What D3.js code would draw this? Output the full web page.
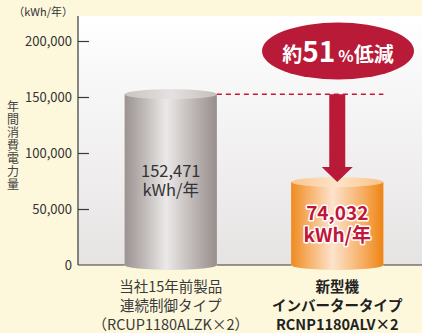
<!DOCTYPE html>
<html>
<head>
<meta charset="utf-8">
<script src="https://cdn.jsdelivr.net/npm/d3@7"></script>
<style>
  html, body { margin: 0; padding: 0; background: #fdf8dc; }
  svg { display: block; font-family: "Noto Sans CJK JP", "Noto Sans", sans-serif; }
</style>
</head>
<body>
<svg id="chart" width="422" height="333"></svg>
<script>
// Annual power consumption (kWh/year), old model vs. new inverter model
const categories = ["old", "new"];
const values = [152471, 74032];
const valueLines = [["152,471", "kWh/年"], ["74,032", "kWh/年"]];
const categoryLines = [
  ["当社15年前製品", "連続制御タイプ", "（RCUP1180ALZK×2）"],
  ["新型機", "インバータータイプ", "RCNP1180ALV×2"]
];
const tickValues = [0, 50000, 100000, 150000, 200000];
const unitLabel = "（kWh/年）";
const axisTitle = "年間消費電力量";
const reductionPrefix = "約";
const reductionNumber = "51";
const reductionPercent = "%";
const reductionSuffix = "低減";

const svg = d3.select("#chart");
const W = 422, H = 333;
const plotLeft = 78, plotTop = 16, plotBottom = 265;

const y = d3.scaleLinear().domain([0, 200000]).range([plotBottom, 41]);
const x = d3.scaleBand().domain(categories).range([78, 430])
  .paddingInner(0.446).paddingOuter(0.28);

const defs = svg.append("defs");

// plot panel background
const bg = defs.append("linearGradient").attr("id", "panel").attr("x1", 0).attr("y1", 0).attr("x2", 0).attr("y2", 1);
bg.append("stop").attr("offset", "0%").attr("stop-color", "#ffffff");
bg.append("stop").attr("offset", "100%").attr("stop-color", "#e6e3e3");

svg.append("rect").attr("x", plotLeft).attr("y", plotTop)
  .attr("width", W - plotLeft).attr("height", plotBottom - plotTop)
  .attr("fill", "url(#panel)");

// cylinder gradients
function sideGradient(id, stops) {
  const g = defs.append("linearGradient").attr("id", id).attr("x1", 0).attr("y1", 0).attr("x2", 1).attr("y2", 0);
  stops.forEach(([o, c]) => g.append("stop").attr("offset", o).attr("stop-color", c));
}
sideGradient("side-old", [["0%", "#9b9391"], ["18%", "#b9b3b1"], ["45%", "#ebe9e8"], ["75%", "#bdb6b4"], ["100%", "#978e8c"]]);
sideGradient("side-new", [["0%", "#f08a20"], ["15%", "#f5a95a"], ["45%", "#fde3cc"], ["78%", "#f6ad62"], ["100%", "#ee8412"]]);
sideGradient("top-old", [["0%", "#c9c4c2"], ["50%", "#e4e1e0"], ["100%", "#c6c0be"]]);
sideGradient("top-new", [["0%", "#f9c690"], ["50%", "#fde4c8"], ["100%", "#f8c185"]]);

const ry = 5;
const bw = x.bandwidth();
const cyl = svg.selectAll("g.cyl").data(categories).join("g").attr("class", "cyl");
cyl.each(function(c, i) {
  const g = d3.select(this);
  const x0 = x(c), cx = x0 + bw / 2;
  const yTop = y(values[i]), yBot = y(0);
  const side = i === 0 ? "url(#side-old)" : "url(#side-new)";
  const top = i === 0 ? "url(#top-old)" : "url(#top-new)";
  g.append("path")
    .attr("d", `M${x0},${yTop} L${x0},${yBot} A${bw / 2},${ry} 0 0 0 ${x0 + bw},${yBot} L${x0 + bw},${yTop} Z`)
    .attr("fill", side);
  g.append("ellipse").attr("cx", cx).attr("cy", yTop).attr("rx", bw / 2).attr("ry", ry).attr("fill", top);
});

// axis line and baseline segments between the cylinders
const axisStroke = "#3a3a3a";
svg.append("line").attr("x1", plotLeft).attr("x2", plotLeft).attr("y1", plotTop).attr("y2", plotBottom)
  .attr("stroke", axisStroke).attr("stroke-width", 1.2);
const baseSegs = [
  [plotLeft, x(categories[0])],
  [x(categories[0]) + bw, x(categories[1])],
  [x(categories[1]) + bw, W]
];
svg.append("g").selectAll("line").data(baseSegs).join("line")
  .attr("x1", d => d[0]).attr("x2", d => d[1]).attr("y1", plotBottom).attr("y2", plotBottom)
  .attr("stroke", axisStroke).attr("stroke-width", 1.2);

// y axis ticks (pointing into the panel) and labels
const axis = d3.axisLeft(y).tickValues(tickValues).tickSize(0).tickPadding(6)
  .tickFormat(d => d3.format(",")(d));
const ag = svg.append("g").attr("transform", `translate(${plotLeft},0)`).call(axis);
ag.select(".domain").remove();
ag.selectAll("text").attr("font-size", 13).attr("fill", "#333").attr("font-family", "\"Noto Sans CJK JP\", sans-serif");
ag.selectAll(".tick").filter(d => d > 0).append("line")
  .attr("x1", 0).attr("x2", 11).attr("stroke", axisStroke).attr("stroke-width", 1.2);

// unit label
svg.append("text").attr("x", 73).attr("y", 16).attr("text-anchor", "end")
  .attr("font-size", 11).attr("fill", "#333").text(unitLabel);

// vertical axis title
svg.append("text")
  .attr("x", 13).attr("y", 100)
  .attr("writing-mode", "vertical-rl")
  .attr("font-size", 12).attr("letter-spacing", 1).attr("fill", "#444")
  .text(axisTitle);

// dashed reference line from the old model's level
svg.append("line")
  .attr("x1", x(categories[0]) + bw).attr("x2", x(categories[1]) + bw)
  .attr("y1", y(values[0])).attr("y2", y(values[0]))
  .attr("stroke", "#c8173a").attr("stroke-width", 1.3).attr("stroke-dasharray", "5,4");

// downward arrow between the two levels
const ax = x(categories[1]) + bw / 2;
const yA = y(values[0]), yB = y(values[1]);
const shaftHalf = 8, headHalf = 15.5, headLen = 15;
svg.append("path")
  .attr("d", `M${ax - shaftHalf},${yA} L${ax + shaftHalf},${yA} L${ax + shaftHalf},${yB - headLen} L${ax + headHalf},${yB - headLen} L${ax},${yB} L${ax - headHalf},${yB - headLen} L${ax - shaftHalf},${yB - headLen} Z`)
  .attr("fill", "#b81a38");

// reduction badge
svg.append("ellipse").attr("cx", 338).attr("cy", 51).attr("rx", 76).attr("ry", 28.5).attr("fill", "#b81a38");
const badge = svg.append("text").attr("x", 338).attr("y", 62).attr("text-anchor", "middle")
  .attr("fill", "#fff").attr("font-weight", "bold");
badge.append("tspan").attr("font-size", 20).text(reductionPrefix);
badge.append("tspan").attr("font-size", 28).text(reductionNumber);
badge.append("tspan").attr("font-size", 16).attr("dx", 3).text(reductionPercent);
badge.append("tspan").attr("font-size", 20).text(reductionSuffix);

// value labels on cylinders
svg.append("g").selectAll("text").data(categories).join("text")
  .attr("x", c => x(c) + bw / 2)
  .attr("y", (c, i) => i === 0 ? 177 : 220)
  .attr("text-anchor", "middle")
  .each(function(c, i) {
    const t = d3.select(this);
    if (i === 0) {
      t.attr("font-size", 16.5).attr("fill", "#333");
    } else {
      t.attr("font-size", 19).attr("font-weight", "bold").attr("fill", "#c0163a")
        .attr("stroke", "#fff").attr("stroke-width", 3).attr("paint-order", "stroke").attr("stroke-linejoin", "round");
    }
    valueLines[i].forEach((s, k) => {
      t.append("tspan").attr("x", x(c) + bw / 2).attr("dy", k === 0 ? 0 : (i === 0 ? 19 : 22)).text(s);
    });
  });

// category labels
svg.append("g").selectAll("text").data(categories).join("text")
  .attr("x", c => x(c) + bw / 2).attr("y", 292)
  .attr("text-anchor", "middle").attr("font-size", 14.5)
  .attr("fill", (c, i) => i === 0 ? "#3a3a3a" : "#222")
  .attr("font-weight", (c, i) => i === 0 ? "normal" : "bold")
  .each(function(c, i) {
    const t = d3.select(this);
    categoryLines[i].forEach((s, k) => {
      t.append("tspan").attr("x", x(c) + bw / 2).attr("dy", k === 0 ? 0 : 19).text(s);
    });
  });
</script>
</body>
</html>
